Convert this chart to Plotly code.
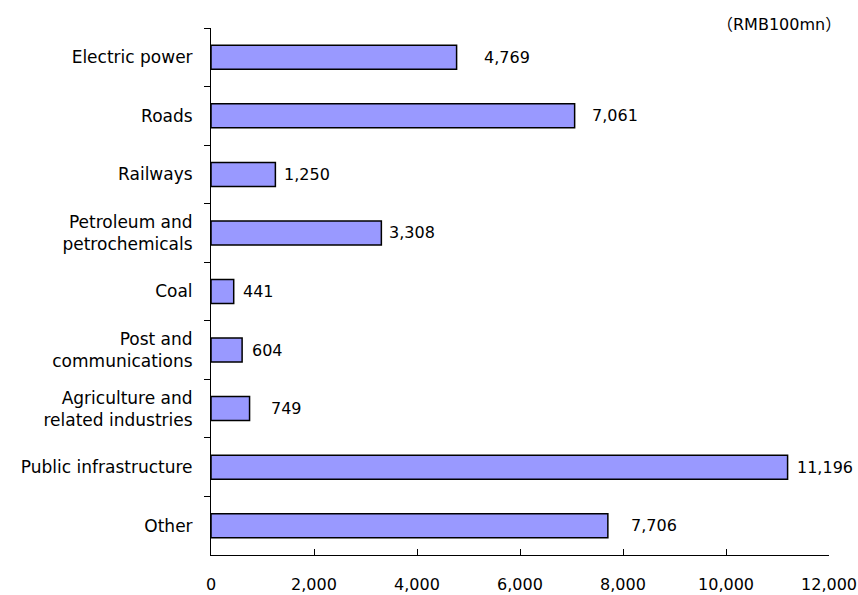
import plotly.graph_objects as go

# Investment by sector (RMB100mn)
sectors = [
    "Electric power",
    "Roads",
    "Railways",
    "Petroleum and<br>petrochemicals",
    "Coal",
    "Post and<br>communications",
    "Agriculture and<br>related industries",
    "Public infrastructure",
    "Other",
]
values = [4769, 7061, 1250, 3308, 441, 604, 749, 11196, 7706]
value_labels = ["4,769", "7,061", "1,250", "3,308", "441", "604", "749", "11,196", "7,706"]
x_ticks = [0, 2000, 4000, 6000, 8000, 10000, 12000]
x_tick_text = ["0", "2,000", "4,000", "6,000", "8,000", "10,000", "12,000"]

# horizontal gap (px) between each bar end and its value label
label_gaps = [25, 15, 7, 6, 7, 8, 19, 7, 21]

FONT = "DejaVu Sans, Noto Sans CJK JP, sans-serif"

fig = go.Figure(
    go.Bar(
        y=sectors,
        x=values,
        orientation="h",
        width=0.41,
        marker=dict(color="#9999FF", line=dict(color="#000000", width=1.5)),
        hoverinfo="skip",
    )
)

for name, v, txt, gap in zip(sectors, values, value_labels, label_gaps):
    fig.add_annotation(
        x=v, y=name, xref="x", yref="y",
        text=txt, showarrow=False,
        xanchor="left", yanchor="middle", xshift=gap,
        font=dict(family=FONT, size=16, color="#000000"),
    )

fig.add_annotation(
    x=1.0227, y=1.006, xref="paper", yref="paper",
    text="（RMB100mn）", showarrow=False,
    xanchor="right", yanchor="middle",
    font=dict(family=FONT, size=16, color="#000000"),
)

fig.update_layout(
    width=858, height=595,
    margin=dict(l=211, r=29, t=28, b=40),
    paper_bgcolor="white", plot_bgcolor="white",
    showlegend=False,
    font=dict(family=FONT, size=16, color="#000000"),
    xaxis=dict(
        range=[0, 12000],
        tickvals=x_ticks, ticktext=x_tick_text,
        ticks="inside", ticklen=6, tickcolor="#000000", tickwidth=1,
        showline=True, linecolor="#000000", linewidth=1,
        showgrid=False, zeroline=False,
        ticklabelstandoff=15,
        automargin=False,
        tickfont=dict(family=FONT, size=16, color="#000000"),
        fixedrange=True,
    ),
    yaxis=dict(
        categoryorder="array", categoryarray=sectors,
        autorange="reversed",
        tickson="boundaries",
        ticks="outside", ticklen=6, tickcolor="#000000", tickwidth=1,
        showline=True, linecolor="#000000", linewidth=1,
        showgrid=False, zeroline=False,
        ticklabelstandoff=14,
        automargin=False,
        tickfont=dict(family=FONT, size=17, color="#000000"),
        fixedrange=True,
    ),
)

fig.write_html("out.html")
